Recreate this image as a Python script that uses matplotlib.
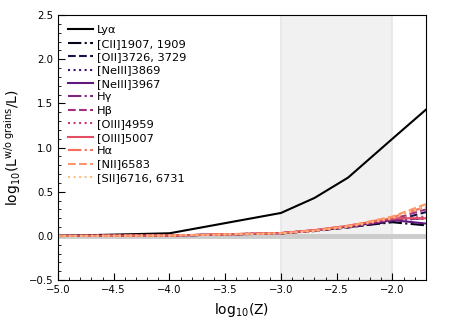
import numpy as np
import matplotlib
matplotlib.use("Agg")
from matplotlib import pyplot as plt
from matplotlib.ticker import MultipleLocator

# metallicity grid, log10(Z)
logZ = [-5.0, -4.0, -3.0, -2.699, -2.398, -2.0, -1.699]

labels = ["Ly\u03b1", "[CII]1907, 1909", "[OII]3726, 3729", "[NeIII]3869",
          "[NeIII]3967", "H\u03b3", "H\u03b2", "[OIII]4959", "[OIII]5007",
          "H\u03b1", "[NII]6583", "[SII]6716, 6731"]

lya = [0.0, 0.03, 0.26, 0.43, 0.66, 1.10, 1.43]
cii = [0.0, 0.004, 0.030, 0.060, 0.10, 0.155, 0.12]
oii = [0.0, 0.004, 0.028, 0.055, 0.095, 0.165, 0.27]
neiii_a = [0.0, 0.004, 0.030, 0.060, 0.10, 0.175, 0.20]
neiii_b = [0.0, 0.004, 0.031, 0.062, 0.105, 0.18, 0.14]
hgam = [0.0, 0.004, 0.031, 0.062, 0.105, 0.18, 0.20]
hbet = [0.0, 0.004, 0.030, 0.060, 0.10, 0.19, 0.30]
oiii_a = [0.0, 0.005, 0.033, 0.065, 0.11, 0.19, 0.22]
oiii_b = [0.0, 0.005, 0.033, 0.066, 0.115, 0.20, 0.20]
halp = [0.0, 0.005, 0.032, 0.065, 0.115, 0.21, 0.33]
nii = [0.0, 0.004, 0.030, 0.060, 0.11, 0.22, 0.36]
sii = [0.0, 0.004, 0.028, 0.055, 0.10, 0.20, 0.34]

series = [lya, cii, oii, neiii_a, neiii_b, hgam, hbet, oiii_a, oiii_b, halp, nii, sii]
styles = ["-", "-.", "--", ":"]

colors = ["black"] + list(plt.cm.magma(np.linspace(0.04, 0.86, 11)))

fig = plt.figure(figsize=(4.6, 3.28), dpi=100)
ax = fig.add_axes([0.126, 0.146, 0.80, 0.808])

ax.axvspan(-3.0, -2.0, facecolor="0.945", edgecolor="0.9", lw=1.2, zorder=0)
ax.axhline(0.0, color="0.8", lw=3.5, zorder=1)

for i, (y, lab) in enumerate(zip(series, labels)):
    ax.plot(logZ, y, ls=styles[i % 4], color=colors[i], lw=1.5, label=lab, zorder=2)

ax.set_xlim(-5.0, -1.699)
ax.set_ylim(-0.5, 2.5)
ax.xaxis.set_major_locator(MultipleLocator(0.5))
ax.xaxis.set_minor_locator(MultipleLocator(0.1))
ax.yaxis.set_major_locator(MultipleLocator(0.5))
ax.yaxis.set_minor_locator(MultipleLocator(0.1))
ax.tick_params(which="both", direction="in", top=False, right=False, labelsize=7.3)
ax.tick_params(which="major", length=5)
ax.tick_params(which="minor", length=2.5)

ax.set_xlabel("log$_{10}$(Z)", fontsize=10)
ax.set_ylabel("log$_{10}$(L$^{\\mathrm{w/o\\ grains}}$/L)", fontsize=10)

ax.legend(loc="upper left", frameon=False, fontsize=8.2, labelspacing=0.3,
          handlelength=2.2, borderaxespad=0.5, handletextpad=0.3)

fig.savefig("out.png", dpi=100)
